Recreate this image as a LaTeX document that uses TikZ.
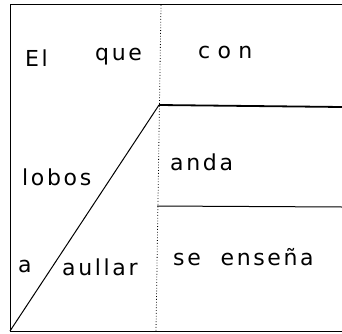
\documentclass[tikz,border=0pt]{standalone}
\usepackage{fontspec}
\setmainfont{DejaVu Sans}[LetterSpace=12]
\begin{document}
\begin{tikzpicture}[x=1pt,y=1pt,
  hand/.style={font=\fontsize{22}{26}\selectfont, inner sep=0pt, anchor=base west},
  rule/.style={line width=1pt, black},
  thick rule/.style={line width=1.8pt, black},
  divider/.style={line width=0.8pt, dotted, black}]
\useasboundingbox (0,0) rectangle (342,333);
\coordinate (tl) at (10,328);
\coordinate (bl) at (10,2);
\coordinate (tr) at (342,328);
\coordinate (br) at (342,2);
\coordinate (dtop) at (161,328);
\coordinate (dbot) at (156,2);
\coordinate (apex) at (159,228);
\coordinate (apexr) at (342,226);
\coordinate (midl) at (157,127);
\coordinate (midr) at (342,126);
\draw[rule] (tr) -- (tl) -- (bl) -- (br);
\draw[divider] (dtop) -- (dbot);
\draw[rule] (bl) -- (apex);
\draw[thick rule] (apex) -- (apexr);
\draw[rule] (midl) -- (midr);
\node[hand] (el) at (25,267) {El};
\node[hand] (que) at (95,273) {que};
\node[hand] (con) at (198,275) {c\,\,o\,\,n};
\node[hand] (lobos) at (22,148) {lobos};
\node[hand] (anda) at (170,163) {anda};
\node[hand] (a) at (18,61) {a};
\node[hand] (aullar) at (62,58) {aullar};
\node[hand] (se) at (173,68) {se\hspace{0.9em}enseña};
\end{tikzpicture}
\end{document}
